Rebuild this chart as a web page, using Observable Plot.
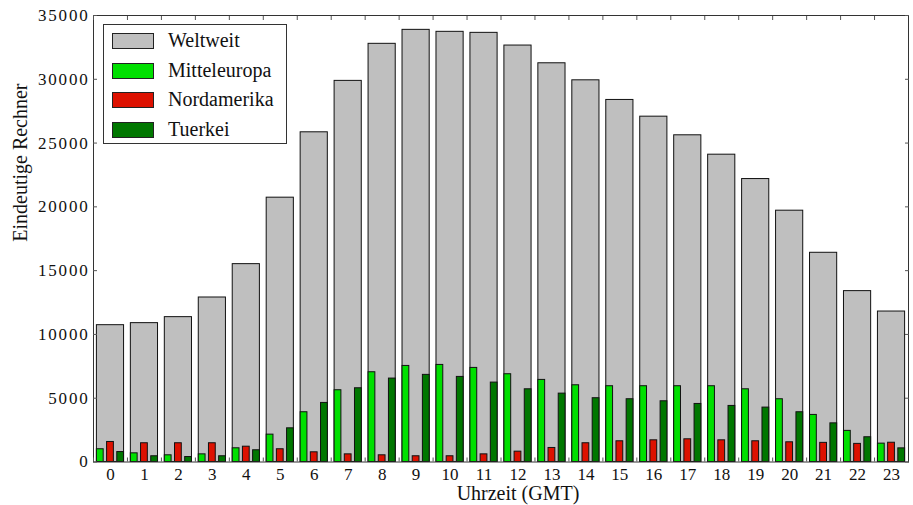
<!DOCTYPE html>
<html>
<head>
<meta charset="utf-8">
<script src="https://cdn.jsdelivr.net/npm/d3@7"></script>
<script src="https://cdn.jsdelivr.net/npm/@observablehq/plot@0.6"></script>
<style>
  html, body { margin: 0; padding: 0; background: #fff; }
  #wrap { position: relative; width: 913px; height: 505px; font-family: "Liberation Serif", serif; }
  #legend { position: absolute; left: 103px; top: 24px; width: 182px; height: 118px;
    border: 1px solid #333; background: #fff; box-sizing: content-box; }
  .row { position: absolute; left: 8px; height: 16px; display: flex; align-items: center; }
  .sw { width: 40px; height: 14px; border: 1px solid #222; box-sizing: content-box; }
  .lbl { position: absolute; left: 56px; top: -5px; font-size: 20px; color: #111; white-space: nowrap; line-height: 24px; }
  .ytl text { letter-spacing: 1.8px; }
</style>
</head>
<body>
<div id="wrap"></div>
<script>
const hours = ["0","1","2","3","4","5","6","7","8","9","10","11","12","13","14","15","16","17","18","19","20","21","22","23"];
const weltweit     = [10725,10885,11355,12895,15510,20720,25845,29875,32780,33875,33720,33640,32645,31255,29920,28380,27070,25610,24090,22180,19700,16400,13395,11795];
const mitteleuropa = [1000,680,525,600,1075,2145,3900,5625,7035,7530,7610,7375,6880,6435,6015,5940,5940,5940,5940,5700,4920,3690,2440,1440];
const nordamerika  = [1570,1470,1470,1470,1200,1000,760,600,525,450,450,600,810,1100,1470,1625,1700,1780,1700,1625,1545,1500,1420,1510];
const tuerkei      = [780,450,390,450,920,2640,4630,5780,6540,6830,6670,6225,5700,5360,5000,4920,4760,4550,4395,4265,3900,3030,1940,1070];
const yTicks = [0,5000,10000,15000,20000,25000,30000,35000];
const seriesNames = ["Weltweit","Mitteleuropa","Nordamerika","Tuerkei"];
const seriesColors = ["#bfbfbf","#00e000","#dd1100","#007700"];
const xLabel = "Uhrzeit (GMT)";
const yLabel = "Eindeutige Rechner";

const rows = hours.map((h, i) => ({hour: h, w: weltweit[i], m: mitteleuropa[i], n: nordamerika[i], t: tuerkei[i]}));

const W = 913, H = 505, mL = 93, mR = 5, mT = 15, mB = 43.5;
const bw = (W - mL - mR) / hours.length;
const g = 0.1 * bw, s = 0.2 * bw;

const chart = Plot.plot({
  width: W, height: H,
  marginLeft: mL, marginRight: mR, marginTop: mT, marginBottom: mB,
  style: {fontFamily: "Liberation Serif, serif", color: "#111", background: "#fff"},
  x: {type: "band", domain: hours, padding: 0, round: false},
  y: {domain: [0, 35000]},
  marks: [
    Plot.barY(rows, {x: "hour", y: "w", fill: seriesColors[0], stroke: "#111", strokeWidth: 1, insetLeft: g, insetRight: g}),
    Plot.barY(rows, {x: "hour", y: "m", fill: seriesColors[1], stroke: "#111", strokeWidth: 1, insetLeft: g, insetRight: bw - g - s}),
    Plot.barY(rows, {x: "hour", y: "n", fill: seriesColors[2], stroke: "#111", strokeWidth: 1, insetLeft: g + 1.5 * s, insetRight: g + 1.5 * s}),
    Plot.barY(rows, {x: "hour", y: "t", fill: seriesColors[3], stroke: "#111", strokeWidth: 1, insetLeft: bw - g - s, insetRight: g}),
    Plot.frame({stroke: "#333", strokeWidth: 1}),
    Plot.axisY({anchor: "left", ticks: yTicks, tickSize: -4, tickPadding: 8, tickFormat: d => String(d), label: null, fontSize: 17, stroke: "#555", className: "ytl"}),
    Plot.axisY({anchor: "right", ticks: yTicks, tickSize: -4, tickFormat: () => "", label: null, stroke: "#555"}),
    Plot.axisX({anchor: "bottom", tickSize: -4, tickFormat: () => "", label: null, dx: -bw / 2, stroke: "#555"}),
    Plot.axisX({anchor: "top", tickSize: -4, tickFormat: () => "", label: null, dx: -bw / 2, stroke: "#555"}),
    Plot.axisX({anchor: "bottom", tickSize: 0, tickPadding: 6, label: null, fontSize: 17}),
    Plot.text([xLabel], {frameAnchor: "bottom", text: d => d, dy: 32, dx: 17, fontSize: 20, lineAnchor: "middle"}),
    Plot.text([yLabel], {frameAnchor: "left", text: d => d, rotate: -90, dx: -73, dy: 3, fontSize: 20, lineAnchor: "middle"})
  ]
});

const wrap = document.getElementById("wrap");
wrap.appendChild(chart);

const legend = document.createElement("div");
legend.id = "legend";
seriesNames.forEach((name, i) => {
  const row = document.createElement("div");
  row.className = "row";
  row.style.top = (8 + i * 29.5) + "px";
  const sw = document.createElement("div");
  sw.className = "sw";
  sw.style.background = seriesColors[i];
  const lb = document.createElement("div");
  lb.className = "lbl";
  lb.textContent = name;
  row.appendChild(sw);
  row.appendChild(lb);
  legend.appendChild(row);
});
wrap.appendChild(legend);
</script>
</body>
</html>
